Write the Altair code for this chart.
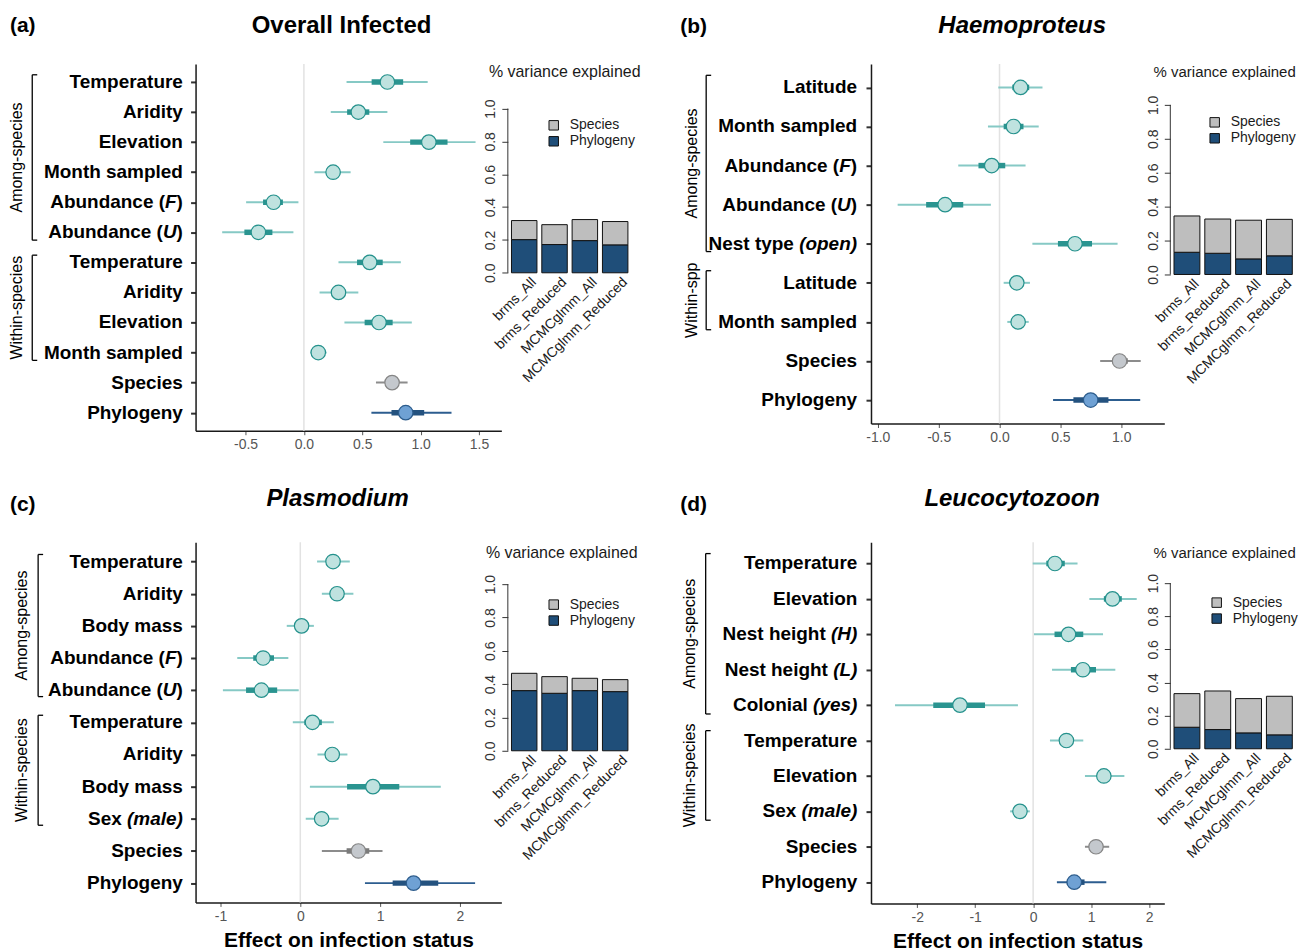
import altair as alt
import pandas as pd

FONT = "Liberation Sans"
GRAY = "#bebebe"
BLUE = "#1f4e79"

MODELS = ["brms_All", "brms_Reduced", "MCMCglmm_All", "MCMCglmm_Reduced"]
COMPONENTS = ["Species", "Phylogeny"]

# ---------------- (a) Overall Infected ----------------
a_labels = ["Temperature", "Aridity", "Elevation", "Month sampled", "Abundance (*F*)", "Abundance (*U*)",
            "Temperature", "Aridity", "Elevation", "Month sampled", "Species", "Phylogeny"]
a_est = [0.715, 0.466, 1.07, 0.25, -0.26, -0.39, 0.563, 0.296, 0.643, 0.123, 0.755, 0.872]
a_in_lo = [0.58, 0.37, 0.91, 0.19, -0.35, -0.51, 0.455, 0.245, 0.52, 0.083, 0.71, 0.75]
a_in_hi = [0.85, 0.56, 1.23, 0.31, -0.18, -0.27, 0.675, 0.354, 0.76, 0.166, 0.81, 1.03]
a_out_lo = [0.365, 0.23, 0.68, 0.09, -0.495, -0.70, 0.296, 0.134, 0.347, 0.054, 0.617, 0.578]
a_out_hi = [1.06, 0.715, 1.47, 0.40, -0.047, -0.09, 0.83, 0.466, 0.924, 0.195, 0.888, 1.264]
a_groups = [("Among-species", 0, 5), ("Within-species", 6, 9)]
a_xticks = [-0.5, 0.0, 0.5, 1.0, 1.5]
a_species_var = [0.116, 0.121, 0.128, 0.142]
a_phylo_var = [0.202, 0.172, 0.196, 0.170]

# ---------------- (b) Haemoproteus ----------------
b_labels = ["Latitude", "Month sampled", "Abundance (*F*)", "Abundance (*U*)", "Nest type *(open)*",
            "Latitude", "Month sampled", "Species", "Phylogeny"]
b_est = [0.173, 0.115, -0.064, -0.447, 0.62, 0.142, 0.153, 0.986, 0.749]
b_in_lo = [0.105, 0.034, -0.173, -0.603, 0.48, 0.108, 0.12, 0.93, 0.607]
b_in_hi = [0.244, 0.197, 0.047, -0.298, 0.76, 0.176, 0.186, 1.054, 0.895]
b_out_lo = [-0.01, -0.095, -0.339, -0.837, 0.27, 0.034, 0.064, 0.827, 0.44]
b_out_hi = [0.353, 0.322, 0.214, -0.071, 0.97, 0.25, 0.24, 1.16, 1.156]
b_groups = [("Among-species", 0, 4), ("Within-spp", 5, 6)]
b_xticks = [-1.0, -0.5, 0.0, 0.5, 1.0]
b_species_var = [0.214, 0.202, 0.228, 0.215]
b_phylo_var = [0.131, 0.125, 0.092, 0.110]

# ---------------- (c) Plasmodium ----------------
c_labels = ["Temperature", "Aridity", "Body mass", "Abundance (*F*)", "Abundance (*U*)",
            "Temperature", "Aridity", "Body mass", "Sex *(male)*", "Species", "Phylogeny"]
c_est = [0.41, 0.46, 0.016, -0.466, -0.487, 0.152, 0.40, 0.91, 0.267, 0.728, 1.419]
c_in_lo = [0.36, 0.41, -0.03, -0.59, -0.68, 0.05, 0.35, 0.586, 0.22, 0.58, 1.157]
c_in_hi = [0.46, 0.51, 0.06, -0.33, -0.29, 0.27, 0.45, 1.24, 0.31, 0.864, 1.728]
c_out_lo = [0.21, 0.27, -0.17, -0.79, -0.97, -0.094, 0.215, 0.12, 0.068, 0.27, 0.81]
c_out_hi = [0.62, 0.665, 0.17, -0.15, -0.02, 0.42, 0.59, 1.76, 0.48, 1.03, 2.19]
c_groups = [("Among-species", 0, 4), ("Within-species", 5, 8)]
c_xticks = [-1, 0, 1, 2]
c_species_var = [0.104, 0.100, 0.074, 0.072]
c_phylo_var = [0.361, 0.345, 0.361, 0.355]

# ---------------- (d) Leucocytozoon ----------------
d_labels = ["Temperature", "Elevation", "Nest height *(H)*", "Nest height *(L)*", "Colonial *(yes)*",
            "Temperature", "Elevation", "Sex *(male)*", "Species", "Phylogeny"]
d_est = [0.376, 1.369, 0.61, 0.858, -1.262, 0.574, 1.22, -0.227, 1.085, 0.709]
d_in_lo = [0.227, 1.22, 0.369, 0.652, -1.723, 0.5, 1.12, -0.3, 0.99, 0.58]
d_in_hi = [0.546, 1.53, 0.865, 1.085, -0.83, 0.65, 1.32, -0.15, 1.19, 0.887]
d_out_lo = [-0.007, 0.97, 0.014, 0.326, -2.383, 0.29, 0.894, -0.397, 0.894, 0.41]
d_out_hi = [0.766, 1.787, 1.206, 1.418, -0.262, 0.865, 1.574, -0.057, 1.312, 1.262]
d_groups = [("Among-species", 0, 4), ("Within-species", 5, 7)]
d_xticks = [-2, -1, 0, 1, 2]
d_species_var = [0.203, 0.233, 0.207, 0.233]
d_phylo_var = [0.130, 0.116, 0.096, 0.084]

# ---------------- styling / layout helpers ----------------
KIND_STYLE = {
    # kind: (outer line, inner line, point fill, point stroke)
    "trait": ("#86c9c5", "#2a9490", "#bfe2df", "#24918c"),
    "species": ("#8c8c8c", "#7a7a7a", "#c4c8cd", "#858585"),
    "phylo": ("#2c5d8f", "#24527f", "#6fa1d4", "#2c5c8c"),
}

# Liberation Sans Bold advance widths (1/1000 em), bold-italic identical
W_BOLD = {' ': 278, '(': 333, ')': 333, 'A': 722, 'B': 722, 'C': 722, 'E': 667, 'F': 611, 'H': 722,
          'L': 611, 'M': 833, 'N': 722, 'P': 667, 'S': 667, 'T': 611, 'U': 722,
          'a': 556, 'b': 611, 'c': 556, 'd': 611, 'e': 556, 'g': 611, 'h': 611, 'i': 278, 'l': 278,
          'm': 889, 'n': 611, 'o': 611, 'p': 611, 'r': 389, 's': 556, 't': 333, 'u': 611, 'v': 556,
          'x': 556, 'y': 556}
LABEL_FS = 19
COL_GAP = 6.0


def tw(s, fs):
    return sum(W_BOLD.get(ch, 600) for ch in s) * fs / 1000.0


def kind_of(lab):
    if lab == "Species":
        return "species"
    if lab == "Phylogeny":
        return "phylo"
    return "trait"


def y_scale(n):
    return alt.Scale(domain=[-0.6, n - 0.4], reverse=True, nice=False, zero=False)


def label_chart(P):
    n = len(P["labels"])
    W, H = P["label_w"], P["height"]
    # coordinates are pixels measured from the forest plot's left edge
    xs = alt.Scale(domain=[-W - COL_GAP, -COL_GAP], nice=False, zero=False)
    ys = y_scale(n)

    rows = []
    for i, lab in enumerate(P["labels"]):
        parts = lab.split("*")
        cum = 0.0
        for j in range(len(parts) - 1, -1, -1):
            p = parts[j]
            if p.strip():
                trail = len(p) - len(p.rstrip())
                rows.append({"idx": i, "x": P["label_right"] - cum - tw(" " * trail, LABEL_FS),
                             "text": p.strip(), "it": 1 if j % 2 == 1 else 0})
            cum += tw(p, LABEL_FS)
    ldf = pd.DataFrame(rows)

    def X(f):
        return alt.X(f, type="quantitative", scale=xs, axis=None)

    def Y(f):
        return alt.Y(f, type="quantitative", scale=ys, axis=None)

    base = alt.Chart(ldf)
    normal = base.transform_filter("datum.it == 0").mark_text(
        align="right", baseline="middle", font=FONT, fontSize=LABEL_FS, fontWeight="bold", color="black"
    ).encode(x=X("x"), y=Y("idx"), text="text:N")
    italic = base.transform_filter("datum.it == 1").mark_text(
        align="right", baseline="middle", font=FONT, fontSize=LABEL_FS, fontWeight="bold",
        fontStyle="italic", color="black"
    ).encode(x=X("x"), y=Y("idx"), text="text:N")

    brows = []
    for name, i0, i1 in P["groups"]:
        y1 = i0 - P["br_top"]
        y2 = i1 + P["br_bot"]
        brows.append({"name": name, "bx": P["bracket_x"], "bx2": P["bracket_x"] + 5,
                      "y1": y1, "y2": y2, "ym": (y1 + y2) / 2, "gx": P["gtext_x"]})
    bdf = pd.DataFrame(brows)
    bb = alt.Chart(bdf)
    vline = bb.mark_rule(color="black", strokeWidth=1.3).encode(x=X("bx"), y=Y("y1"), y2="y2:Q")
    tline = bb.mark_rule(color="black", strokeWidth=1.3).encode(x=X("bx"), x2="bx2:Q", y=Y("y1"))
    bline = bb.mark_rule(color="black", strokeWidth=1.3).encode(x=X("bx"), x2="bx2:Q", y=Y("y2"))
    gtext = bb.mark_text(angle=270, align="center", baseline="middle", font=FONT, fontSize=16,
                         color="black").encode(x=X("gx"), y=Y("ym"), text="name:N")
    letter = alt.Chart(pd.DataFrame({"t": [P["letter"]]})).mark_text(
        align="left", baseline="middle", font=FONT, fontSize=21, fontWeight="bold", color="black"
    ).encode(x=alt.value(P["letter_x"]), y=alt.value(P["letter_y"]), text="t:N")

    return alt.layer(normal, italic, vline, tline, bline, gtext, letter).properties(width=W, height=H)


def forest_chart(P):
    labels = P["labels"]
    n = len(labels)
    df = pd.DataFrame({
        "idx": list(range(n)), "est": P["est"],
        "lo_in": P["in_lo"], "hi_in": P["in_hi"],
        "lo_out": P["out_lo"], "hi_out": P["out_hi"],
        "kind": [kind_of(l) for l in labels],
    })
    xs = alt.Scale(domain=P["xdom"], nice=False, zero=False)
    ys = y_scale(n)
    fmt = P["fmt"]
    xaxis = alt.Axis(
        values=P["xticks"],
        labelExpr="(datum.value < 0 ? '-' : '') + format(abs(datum.value), '%s')" % fmt,
        grid=False, domainColor="#1a1a1a", domainWidth=1.5, tickColor="#555555", tickSize=4,
        tickWidth=1, labelColor="#555555", labelFont=FONT, labelFontSize=14, labelPadding=3,
        title=P["xtitle"], titleFont=FONT, titleFontSize=21, titleFontWeight="bold",
        titleColor="black", titlePadding=6)
    yaxis = alt.Axis(values=list(range(n)), labels=False, title=None, grid=False, tickSize=5,
                     tickWidth=2, tickColor="#333333", domainColor="#1a1a1a", domainWidth=1.5)

    def X(f):
        return alt.X(f, type="quantitative", scale=xs, axis=xaxis)

    def Y(f):
        return alt.Y(f, type="quantitative", scale=ys, axis=yaxis)

    layers = [alt.Chart(pd.DataFrame({"z": [0.0]})).mark_rule(color="#e2e2e2", strokeWidth=1.5)
              .encode(x=X("z"))]
    for kind, (c_out, c_in, c_fill, c_stroke) in KIND_STYLE.items():
        sub = alt.Chart(df).transform_filter(alt.datum.kind == kind)
        layers.append(sub.mark_rule(color=c_out, strokeWidth=2).encode(
            x=X("lo_out"), x2="hi_out:Q", y=Y("idx")))
        layers.append(sub.mark_rule(color=c_in, strokeWidth=5.5, strokeCap="butt").encode(
            x=X("lo_in"), x2="hi_in:Q", y=Y("idx")))
        layers.append(sub.mark_circle(size=210, fill=c_fill, stroke=c_stroke, strokeWidth=1.2,
                                      opacity=1).encode(x=X("est"), y=Y("idx")))
    tkw = dict(align="center", baseline="middle", font=FONT, fontSize=24, fontWeight="bold",
               color="black")
    if P["title_italic"]:
        tkw["fontStyle"] = "italic"
    layers.append(alt.Chart(pd.DataFrame({"t": [P["title"]]})).mark_text(**tkw).encode(
        x=alt.value(P["title_x"]), y=alt.value(P["title_y"]), text="t:N"))
    return alt.layer(*layers).properties(width=P["forest_w"], height=P["height"])


def bar_chart(P):
    rows = []
    for m, s, p in zip(MODELS, P["species_var"], P["phylo_var"]):
        rows.append({"model": m, "comp": "Phylogeny", "value": p, "ord": 0})
        rows.append({"model": m, "comp": "Species", "value": s, "ord": 1})
    bdf = pd.DataFrame(rows)
    top = P["bar_top"]
    ys = alt.Scale(domain=[0, top], nice=False, zero=False)
    yaxis = alt.Axis(values=[0, 0.2, 0.4, 0.6, 0.8, 1.0], format=".1f", title=None,
                     grid=False, domain=False, tickSize=6, tickColor="#333333",
                     labelAngle=270, labelAlign="center", labelBaseline="bottom",
                     labelFont=FONT, labelFontSize=14, labelColor="#333333",
                     labelPadding=4)
    bars = alt.Chart(bdf).mark_bar(stroke="#111111", strokeWidth=1).encode(
        x=alt.X("model:N", sort=MODELS,
                scale=alt.Scale(paddingInner=0.16, paddingOuter=0.12),
                axis=alt.Axis(title=None, domain=False, ticks=False, labelAngle=315,
                              labelAlign="right", labelBaseline="middle", labelFont=FONT,
                              labelFontSize=14, labelColor="#1a1a1a", labelPadding=7,
                              labelOffset=10)),
        y=alt.Y("value:Q", stack="zero", scale=ys, axis=yaxis),
        color=alt.Color("comp:N", scale=alt.Scale(domain=COMPONENTS, range=[GRAY, BLUE]),
                        legend=alt.Legend(orient="none", legendX=P["legend_x"],
                                          legendY=P["legend_y"], title=None, symbolType="square",
                                          symbolSize=90, symbolStrokeColor="#111111",
                                          symbolStrokeWidth=1, symbolOpacity=1,
                                          labelFont=FONT, labelFontSize=14,
                                          labelColor="#1a1a1a", labelOffset=9, rowPadding=2,
                                          padding=0)),
        order=alt.Order("ord:Q"),
    )
    axis_line = alt.Chart(pd.DataFrame({"lo": [0.0], "hi": [1.0]})).mark_rule(
        color="#333333", strokeWidth=1).encode(
        x=alt.value(0), y=alt.Y("lo:Q", scale=ys, axis=yaxis), y2="hi:Q")
    title = alt.Chart(pd.DataFrame({"t": ["% variance explained"]})).mark_text(
        align="center", baseline="middle", font=FONT, fontSize=P["vt_fs"], color="#1a1a1a").encode(
        x=alt.value(P["vt_x"]), y=alt.value(P["vt_y"]), text="t:N")
    return alt.layer(bars, axis_line, title).properties(width=P["bar_w"], height=P["bar_h"])


def bar_geom(row_top, p1, p0):
    span = p0 - p1
    h = p0 - row_top
    return h, h / span


ROW1_TOP = 63.0
ROW2_TOP = 542.0

# column layout (page pixels): label A 8..189.7, forest A 195.7..502.2, bar A 508.2..632.2,
# label B 638.2..865.5, forest B 871.5..1165.5, bar B 1171.5..1297.5
A = dict(labels=a_labels, est=a_est, in_lo=a_in_lo, in_hi=a_in_hi, out_lo=a_out_lo, out_hi=a_out_hi,
         groups=a_groups, xticks=a_xticks, fmt=".1f", species_var=a_species_var, phylo_var=a_phylo_var,
         label_w=181.7, label_right=-12.4, bracket_x=-163.4, gtext_x=-178.4, br_top=0.24, br_bot=0.26,
         letter="(a)", letter_x=2, letter_y=-38,
         forest_w=306.5, height=367.6, xdom=[-0.928, 1.691], xtitle=None,
         title="Overall Infected", title_italic=False, title_x=146.3, title_y=-38,
         bar_w=124, vt_x=57, vt_y=8, vt_fs=16, legend_x=39, legend_y=54.5)
A["bar_h"], A["bar_top"] = bar_geom(ROW1_TOP, 107.7, 272.3)

B = dict(labels=b_labels, est=b_est, in_lo=b_in_lo, in_hi=b_in_hi, out_lo=b_out_lo, out_hi=b_out_hi,
         groups=b_groups, xticks=b_xticks, fmt=".1f", species_var=b_species_var, phylo_var=b_phylo_var,
         label_w=227.3, label_right=-13.3, bracket_x=-164.5, gtext_x=-179.2, br_top=0.31, br_bot=0.2,
         letter="(b)", letter_x=42.8, letter_y=-37,
         forest_w=294, height=360.4, xdom=[-1.056, 1.354], xtitle=None,
         title="Haemoproteus", title_italic=True, title_x=151.5, title_y=-38,
         bar_w=126, vt_x=54.5, vt_y=8, vt_fs=15, legend_x=37.5, legend_y=51.5)
B["bar_h"], B["bar_top"] = bar_geom(ROW1_TOP, 104.0, 274.0)

C = dict(labels=c_labels, est=c_est, in_lo=c_in_lo, in_hi=c_in_hi, out_lo=c_out_lo, out_hi=c_out_hi,
         groups=c_groups, xticks=c_xticks, fmt="d", species_var=c_species_var, phylo_var=c_phylo_var,
         label_w=181.7, label_right=-12.5, bracket_x=-157.5, gtext_x=-173.5, br_top=0.22, br_bot=0.2,
         letter="(c)", letter_x=2, letter_y=-37,
         forest_w=306.5, height=361.0, xdom=[-1.3125, 2.519], xtitle="Effect on infection status",
         title="Plasmodium", title_italic=True, title_x=142.3, title_y=-43,
         bar_w=124, vt_x=54, vt_y=11, vt_fs=16, legend_x=39, legend_y=55.5)
C["bar_h"], C["bar_top"] = bar_geom(ROW2_TOP, 584.0, 751.0)

D = dict(labels=d_labels, est=d_est, in_lo=d_in_lo, in_hi=d_in_hi, out_lo=d_out_lo, out_hi=d_out_hi,
         groups=d_groups, xticks=d_xticks, fmt="d", species_var=d_species_var, phylo_var=d_phylo_var,
         label_w=227.3, label_right=-13, bracket_x=-165, gtext_x=-180.3, br_top=0.28, br_bot=0.25,
         letter="(d)", letter_x=42.8, letter_y=-37,
         forest_w=294, height=362.0, xdom=[-2.797, 2.263], xtitle="Effect on infection status",
         title="Leucocytozoon", title_italic=True, title_x=141.5, title_y=-43,
         bar_w=126, vt_x=54.5, vt_y=11, vt_fs=15, legend_x=39.5, legend_y=53.5)
D["bar_h"], D["bar_top"] = bar_geom(ROW2_TOP, 583.0, 749.0)

cells = []
for P in (A, B, C, D):
    cells += [label_chart(P), forest_chart(P), bar_chart(P)]

row1_h = max(A["height"], B["height"])

chart = alt.concat(
    *cells, columns=6, align="each", bounds="flush",
    spacing=alt.RowColnumber(row=ROW2_TOP - ROW1_TOP - row1_h, column=COL_GAP),
).resolve_scale(color="independent").resolve_legend(color="independent").properties(
    padding={"left": 0, "top": 5, "right": 0, "bottom": 0}
).configure(font=FONT).configure_view(stroke="transparent", strokeWidth=0)

chart.save("out.html", embed_options={"renderer": "svg", "actions": False})
